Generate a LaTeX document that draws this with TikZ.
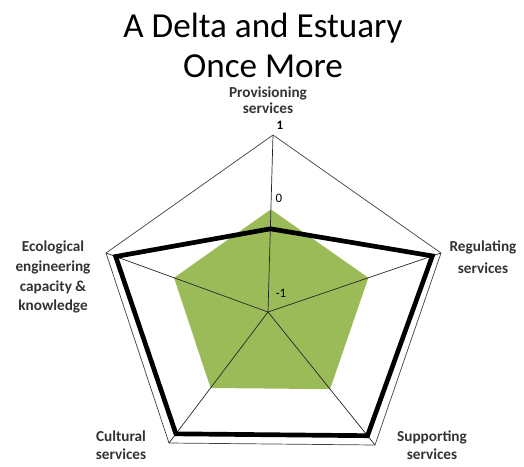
\documentclass[tikz,border=0pt]{standalone}
\usepackage{fontspec}
\setmainfont{Carlito}
\usetikzlibrary{calc}
\definecolor{chartgreen}{RGB}{155,187,89}
\def \labelgray {black!80}

\begin{document}
\begin{tikzpicture}[x=0.03cm, y=-0.03cm]
\useasboundingbox (0,0) rectangle (524,466);

\node (title) [align = center, font = \fontsize{30}{34}\selectfont] at (263,45) {A Delta and Estuary\\Once More};

% axes of the chart
\coordinate (c) at (268,312);
\coordinate (v1) at (273,135);
\coordinate (v2) at (441,253);
\coordinate (v3) at (375,445);
\coordinate (v4) at (169,443);
\coordinate (v5) at (106,253);

\fill[chartgreen] ($(c)!0.58!(v1)$) -- ($(c)!0.58!(v2)$) -- ($(c)!0.58!(v3)$) -- ($(c)!0.58!(v4)$) -- ($(c)!0.58!(v5)$) -- cycle;
\foreach \v in {v1, v2, v3, v4, v5}
  \draw[line width = 0.6pt, black!85] (c) to (\v);
\draw[line width = 0.6pt, black!75] (v1) -- (v2) -- (v3) -- (v4) -- (v5) -- cycle;
\draw[line width = 4pt, line join = miter] ($(c)!0.47!(v1)$) -- ($(c)!0.95!(v2)$) -- ($(c)!0.93!(v3)$) -- ($(c)!0.93!(v4)$) -- ($(c)!0.94!(v5)$) -- cycle;

% scale
\node (one) [font = \fontsize{11}{12}\selectfont\bfseries] at (280,125) {1};
\node (zero) [font = \fontsize{11}{12}\selectfont] at (279,198) {0};
\node (mone) [font = \fontsize{11}{12}\selectfont] at (281,293) {-1};

% categories
\tikzset{category/.style = {align = center, text = \labelgray, font = \fontsize{13}{17}\selectfont\bfseries}}
\node (provis) [category, font = \fontsize{13}{14}\selectfont\bfseries] at (268,100) {Provisioning\\services};
\node (regul) [category, font = \fontsize{13}{19}\selectfont\bfseries] at (483,257) {Regulating\\services};
\node (support) [category, font = \fontsize{13}{15}\selectfont\bfseries] at (432,445) {Supporting\\services};
\node (cultur) [category, font = \fontsize{13}{15}\selectfont\bfseries] at (121,445) {Cultural\\services};
\node (ecoeng) [category] at (53,277) {Ecological\\engineering\\capacity \&\\knowledge};

\end{tikzpicture}
\end{document}
